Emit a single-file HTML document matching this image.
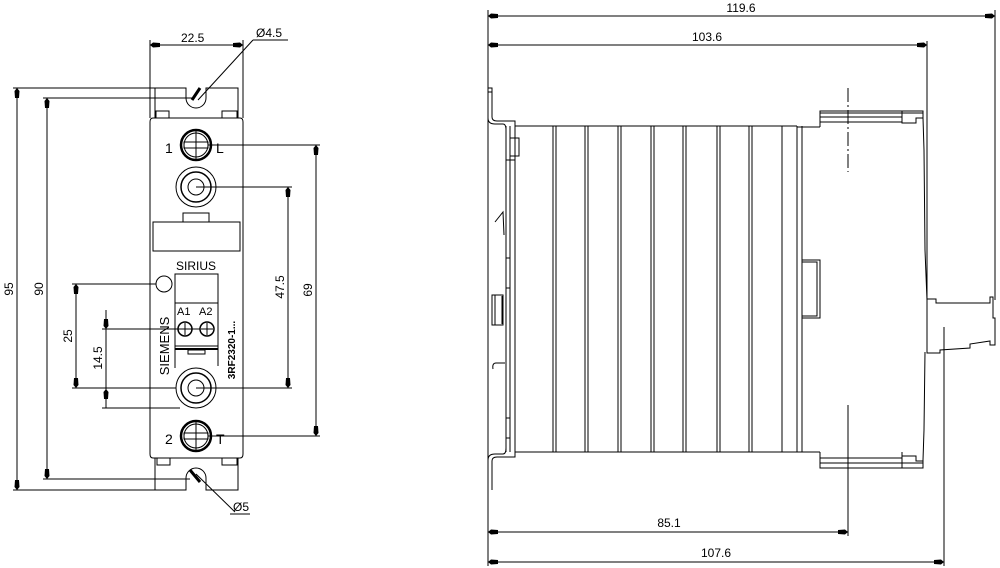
<!DOCTYPE html>
<html><head><meta charset="utf-8"><style>
html,body{margin:0;padding:0;background:#fff}
svg{display:block}
text{font-family:"Liberation Sans",sans-serif;font-size:12px;fill:#000}
</style></head><body>
<svg width="1000" height="568" viewBox="0 0 1000 568" xmlns="http://www.w3.org/2000/svg">
<defs>
<marker id="a" markerWidth="10" markerHeight="6" refX="0" refY="3" orient="auto" markerUnits="userSpaceOnUse"><path d="M0,3 L3,0.5 L10,1 L10,5 L3,5.5Z" fill="#000"/></marker>
<marker id="b" markerWidth="10" markerHeight="6" refX="10" refY="3" orient="auto" markerUnits="userSpaceOnUse"><path d="M10,3 L7,0.5 L0,1 L0,5 L7,5.5Z" fill="#000"/></marker>
</defs>
<g stroke="#000" stroke-width="1" fill="none">
<line x1="150" y1="40" x2="150" y2="118"/><line x1="243" y1="40" x2="243" y2="118"/>
<line x1="150" y1="45" x2="243" y2="45" marker-start="url(#a)" marker-end="url(#b)"/>
<line x1="198" y1="100" x2="253" y2="40"/><line x1="253" y1="40" x2="288" y2="40"/>
<line x1="13" y1="88" x2="186" y2="88"/><line x1="43" y1="98" x2="192" y2="98"/>
<line x1="13" y1="490" x2="186" y2="490"/><line x1="43" y1="479" x2="190" y2="479"/>
<line x1="17" y1="88" x2="17" y2="490" marker-start="url(#a)" marker-end="url(#b)"/>
<line x1="47" y1="98" x2="47" y2="479" marker-start="url(#a)" marker-end="url(#b)"/>
<path d="M155,118 V88 H186 V98 A10,10 0 0 0 206,98 V88 H238 V118"/>
<rect x="156" y="111" width="13" height="7"/><rect x="222" y="111" width="15" height="7"/>
<path d="M153,118 H240 Q243,118 243,122 V454 Q243,458 240,458 H153 Q150,458 150,454 V122 Q150,118 153,118Z"/>
<path d="M155,458 V490 H186 V478 A10,10 0 0 1 206,478 V490 H238 V458"/>
<rect x="157" y="458" width="13" height="7"/><rect x="222" y="458" width="15" height="7"/>
<line x1="196" y1="474" x2="235" y2="512"/><line x1="230" y1="514" x2="250" y2="514"/>
<line x1="190" y1="470" x2="200" y2="482" stroke-width="3"/>
<line x1="200" y1="88" x2="192" y2="100" stroke-width="3"/>
<circle cx="196" cy="145" r="15" stroke-width="2.5"/><circle cx="196" cy="145" r="12"/>
<rect x="184" y="142" width="24" height="6"/><line x1="196" y1="131" x2="196" y2="159"/>
<circle cx="196" cy="436" r="15" stroke-width="2.5"/><circle cx="196" cy="436" r="12"/>
<rect x="184" y="433" width="24" height="6"/><line x1="196" y1="422" x2="196" y2="450"/>
<line x1="208" y1="145" x2="320" y2="145"/><line x1="208" y1="436" x2="320" y2="436"/>
<line x1="316" y1="145" x2="316" y2="436" marker-start="url(#a)" marker-end="url(#b)"/>
<circle cx="196" cy="187" r="20"/><circle cx="196" cy="187" r="15" stroke-width="1.5"/><circle cx="196" cy="187" r="8"/>
<circle cx="196" cy="388" r="20"/><circle cx="196" cy="388" r="15" stroke-width="1.5"/><circle cx="196" cy="388" r="8"/>
<line x1="196" y1="187" x2="292" y2="187"/><line x1="196" y1="388" x2="292" y2="388"/>
<line x1="288" y1="187" x2="288" y2="388" marker-start="url(#a)" marker-end="url(#b)"/>
<rect x="183" y="213" width="26" height="9"/>
<rect x="153" y="222" width="87" height="29"/>
<circle cx="164" cy="284" r="8"/>
<line x1="72" y1="284" x2="156" y2="284"/>
<line x1="72" y1="388" x2="176" y2="388"/>
<line x1="76" y1="284" x2="76" y2="388" marker-start="url(#a)" marker-end="url(#b)"/>
<path d="M175,368 V274 H218 V366"/>
<line x1="175" y1="303" x2="218" y2="303"/>
<circle cx="185" cy="329" r="7" stroke-width="1.5"/><circle cx="207" cy="329" r="7" stroke-width="1.5"/>
<path d="M179,329 H191 M185,323 V335 M201,329 H213 M207,323 V335"/>
<line x1="102" y1="329" x2="200" y2="329"/>
<line x1="102" y1="408" x2="180" y2="408"/>
<line x1="106" y1="310" x2="106" y2="329" marker-end="url(#b)"/>
<line x1="106" y1="408" x2="106" y2="389" marker-end="url(#b)"/>
<line x1="106" y1="329" x2="106" y2="389"/>
<line x1="175" y1="346" x2="218" y2="346"/><line x1="175" y1="349" x2="218" y2="349" stroke-width="2"/>
<rect x="188" y="350" width="17" height="4"/>
<line x1="488" y1="10" x2="488" y2="566"/>
<line x1="488" y1="16" x2="995" y2="16" marker-start="url(#a)" marker-end="url(#b)"/>
<line x1="995" y1="10" x2="995" y2="300"/>
<line x1="488" y1="45" x2="927" y2="45" marker-start="url(#a)" marker-end="url(#b)"/>
<line x1="927" y1="41" x2="927" y2="300"/>
<line x1="488" y1="532" x2="848" y2="532" marker-start="url(#a)" marker-end="url(#b)"/>
<line x1="848" y1="405" x2="848" y2="536"/>
<line x1="848" y1="88" x2="848" y2="172" stroke-dasharray="14,3,2,3"/>
<line x1="848" y1="405" x2="848" y2="470" stroke-dasharray="14,3,2,3"/>
<line x1="488" y1="562" x2="944" y2="562" marker-start="url(#a)" marker-end="url(#b)"/>
<line x1="944" y1="327" x2="944" y2="566"/>
<path d="M488,88 V118 Q488,124 495,124 H503 Q506,124 506,130 M492,88 V117 Q492,121 497,121 H515 V126"/>
<path d="M488,490 V460 Q488,454 495,454 H503 Q506,454 506,448 M492,490 V461 Q492,457 497,457 H515 V452"/>
<rect x="488" y="88" width="4" height="4"/>
<line x1="506" y1="126" x2="506" y2="452"/><line x1="510" y1="126" x2="510" y2="452"/><line x1="515" y1="126" x2="515" y2="452"/>
<rect x="510" y="138" width="9" height="18"/><line x1="506" y1="160" x2="515" y2="160"/>
<path d="M506,258 H510 V288 H506 M506,418 H510 V438 H506"/>
<path d="M503,295 H492 V325 H503 Z M495,295 V325"/>
<path d="M502,296 V324"/>
<path d="M505,363 H496 Q492,363 493,369 M495,222 L503,212 L504,235"/>
<line x1="515" y1="126" x2="797" y2="126"/><line x1="515" y1="452" x2="820" y2="452"/>
<path d="M553,126V452 M556,126V452 M585,126V452 M588,126V452 M618,126V452 M621,126V452 M651,126V452 M654,126V452 M683,126V452 M686,126V452 M717,126V452 M720,126V452 M749,126V452 M752,126V452 M782,126V452 M797,126V452 M802,126V452"/>
<line x1="797" y1="127" x2="820" y2="127"/>
<path d="M820,127 V111 H923 V118 L924,150 L925,250 L927,300 M820,452 V468 H923 V460 L924,430 L925,352"/>
<path d="M820,113 H923 M820,117 H902 M820,122 H902 M902,111 V123 H916 V118 H923"/>
<path d="M820,458 H902 M820,463 H923 M902,452 V468 M902,456 H916 V461 H923"/>
<rect x="802" y="260" width="18" height="58"/><rect x="802" y="262" width="15" height="54"/>
<path d="M927,299 H936 V303 H990 V297 H993 V318 H995 V345 H990 V341 L970,344 V348 L940,350 V353 H927 V300"/>
</g>
<g>
<text x="181" y="42">22.5</text>
<text x="256" y="37">Ø4.5</text>
<text x="233" y="511">Ø5</text>
<text x="165" y="153" style="font-size:14px">1</text>
<text x="216" y="153" style="font-size:14px">L</text>
<text x="165" y="444" style="font-size:14px">2</text>
<text x="216" y="444" style="font-size:14px">T</text>
<text x="196" y="270" text-anchor="middle" style="font-size:12px">SIRIUS</text>
<text x="177" y="315" style="font-size:11px">A1</text><text x="199" y="315" style="font-size:11px">A2</text>
<text transform="translate(169,346) rotate(-90)" text-anchor="middle" style="font-size:13px">SIEMENS</text>
<text transform="translate(235,350) rotate(-90)" text-anchor="middle" style="font-size:10px;font-weight:bold">3RF2320-1...</text>
<text transform="translate(13,289) rotate(-90)" text-anchor="middle">95</text>
<text transform="translate(43,289) rotate(-90)" text-anchor="middle">90</text>
<text transform="translate(72,336) rotate(-90)" text-anchor="middle">25</text>
<text transform="translate(102,358) rotate(-90)" text-anchor="middle">14.5</text>
<text transform="translate(284,287) rotate(-90)" text-anchor="middle">47.5</text>
<text transform="translate(312,290) rotate(-90)" text-anchor="middle">69</text>
<text x="741" y="12" text-anchor="middle">119.6</text>
<text x="707" y="41" text-anchor="middle">103.6</text>
<text x="669" y="527" text-anchor="middle">85.1</text>
<text x="716" y="557" text-anchor="middle">107.6</text>
</g>
</svg>
</body></html>
